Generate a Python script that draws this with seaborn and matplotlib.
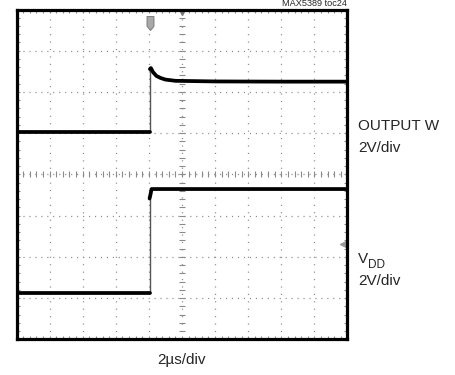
import numpy as np
import pandas as pd
import matplotlib
matplotlib.use("Agg")
import matplotlib.pyplot as plt
from matplotlib.path import Path
import seaborn as sns

# Scope settings
t_per_div = 2.0      # µs/div
v_per_div = 2.0      # V/div (both channels)
n_xdiv, n_ydiv = 10, 8

# OUTPUT W (time in µs, volts); index 1..2 is the rising edge
out_t = [0.0, 8.06, 8.06, 8.12, 8.25, 8.45, 8.70, 9.00, 9.60, 12.0, 16.0, 20.0]
out_v = [0.0, 0.0, 3.05, 3.10, 2.90, 2.72, 2.62, 2.54, 2.48, 2.45, 2.44, 2.44]
out_ground = 5.03    # divisions from bottom

# VDD (time in µs, volts)
vdd_t = [0.0, 8.04, 8.04, 8.10, 8.16, 20.0]
vdd_v = [0.0, 0.0, 4.59, 4.80, 5.05, 5.05]
vdd_ground = 1.12

W, H = 456, 375
sns.set_style("white")
plt.rcParams["font.family"] = ["Liberation Sans", "DejaVu Sans"]

fig = plt.figure(figsize=(W / 100, H / 100), dpi=100)
left, right, top, bottom = 16.5, 347.5, 9.5, 339.3
ax = fig.add_axes([left / W, 1 - bottom / H, (right - left) / W, (bottom - top) / H])
ax.set_xlim(0, n_xdiv)
ax.set_ylim(0, n_ydiv)

px_per_pt = 100 / 72
xdiv_pt = (right - left) / n_xdiv / px_per_pt
ydiv_pt = (bottom - top) / n_ydiv / px_per_pt
grid_col = "#8a8a8a"

# dotted graticule, five dots per division
for i in range(1, n_ydiv):
    ax.axhline(i, color=grid_col, lw=0.9, ls=(0, (0.9, xdiv_pt / 5 - 0.9)), zorder=1)
for i in range(1, n_xdiv):
    ax.axvline(i, color=grid_col, lw=0.9, ls=(0, (0.9, ydiv_pt / 5 - 0.9)), zorder=1)

# centre cross-hair tick marks
hx = np.arange(0, n_xdiv + 0.01, 0.2)
vy = np.arange(0, n_ydiv + 0.01, 0.2)
ax.plot(hx, np.full_like(hx, n_ydiv / 2), ls="none", marker="|", ms=4.5, mew=0.8, color=grid_col, zorder=1)
ax.plot(np.full_like(vy, n_xdiv / 2), vy, ls="none", marker="_", ms=4.5, mew=0.8, color=grid_col, zorder=1)

# border ticks
ax.set_xticks(np.arange(0, n_xdiv + 1, 1))
ax.set_yticks(np.arange(0, n_ydiv + 1, 1))
ax.set_xticks(hx, minor=True)
ax.set_yticks(vy, minor=True)
ax.tick_params(which="both", direction="in", length=2.5, width=0.8, color=grid_col,
               top=True, right=True, bottom=True, left=True,
               labelbottom=False, labelleft=False)
for s in ax.spines.values():
    s.set_linewidth(2.3)
    s.set_color("black")
    s.set_zorder(5)


def to_frame(t, v, ground):
    return pd.DataFrame({"x": np.asarray(t) / t_per_div,
                         "y": ground + np.asarray(v) / v_per_div})


for t, v, g in ((out_t, out_v, out_ground), (vdd_t, vdd_v, vdd_ground)):
    d = to_frame(t, v, g)
    # flat parts, thick trace
    sns.lineplot(data=d.iloc[:2], x="x", y="y", sort=False, estimator=None,
                 color="black", lw=2.7, ax=ax, zorder=4)
    sns.lineplot(data=d.iloc[2:], x="x", y="y", sort=False, estimator=None,
                 color="black", lw=2.7, ax=ax, zorder=4)
    # fast edge, faint trace
    sns.lineplot(data=d.iloc[1:3], x="x", y="y", sort=False, estimator=None,
                 color="#555555", lw=1.0, ax=ax, zorder=3)

# trigger position marker
trig = Path([(-0.5, 1.0), (0.5, 1.0), (0.5, -0.4), (0.0, -1.0), (-0.5, -0.4), (-0.5, 1.0)],
            closed=True)
ax.plot([out_t[1] / t_per_div], [7.67], ls="none", marker=trig, ms=10,
        mfc="#a8a8a8", mec="#7a7a7a", mew=0.7, zorder=4)
# time-reference marker
ax.plot([5.0], [7.93], ls="none", marker="v", ms=4, color="#777777", zorder=4)
# channel level marker
ax.plot([9.86], [2.31], ls="none", marker="<", ms=4.5, color="#999999", zorder=4)

ax.set_xlabel("")
ax.set_ylabel("")
ax.set_ylim(0, n_ydiv)
ax.set_xlim(0, n_xdiv)


def ftext(x, y, s, **kw):
    fig.text(x / W, 1 - y / H, s, **kw)


ftext(347, 6, "MAX5389 toc24", ha="right", va="baseline", fontsize=6.6)
ftext(358, 130, "OUTPUT W", ha="left", va="baseline", fontsize=11)
ftext(358, 152, "2V/div", ha="left", va="baseline", fontsize=11)
ftext(358, 263, "V", ha="left", va="baseline", fontsize=11)
ftext(368.5, 268, "DD", ha="left", va="baseline", fontsize=8.5)
ftext(358, 285, "2V/div", ha="left", va="baseline", fontsize=11)
ftext(182, 364, "2µs/div", ha="center", va="baseline", fontsize=11)

fig.savefig("out.png", dpi=100)
